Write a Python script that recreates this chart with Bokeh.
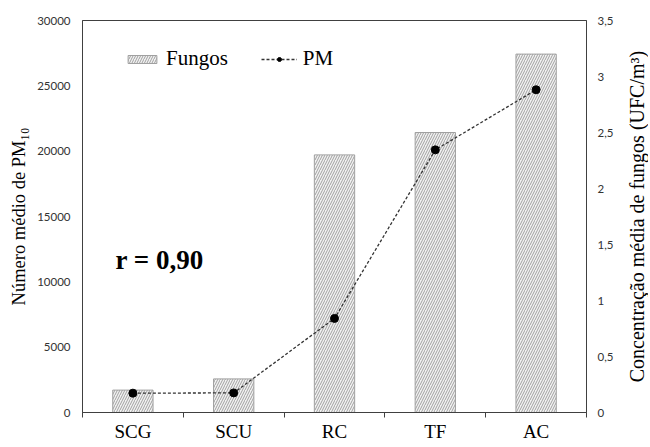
import math
from bokeh.plotting import figure
from bokeh.layouts import row
from bokeh.models import (Range1d, LinearAxis, FixedTicker, Legend, LegendItem,
                          Label, ColumnDataSource)
from bokeh.embed import file_html
from bokeh.resources import INLINE

categories = ["SCG", "SCU", "RC", "TF", "AC"]
fungos = [0.2, 0.3, 2.3, 2.5, 3.2]          # right axis (UFC/m³)
pm = [1480, 1500, 7200, 20100, 24700]        # left axis (PM10)
left_ticks = [0, 5000, 10000, 15000, 20000, 25000, 30000]
right_ticks = [0, 0.5, 1, 1.5, 2, 2.5, 3, 3.5]
right_tick_labels = ["0", "0,5", "1", "1,5", "2", "2,5", "3", "3,5"]
left_title = "Número médio de PM₁₀"
right_title = "Concentração média de fungos (UFC/m³)"

xpos = [i + 0.5 for i in range(len(categories))]
src = ColumnDataSource(dict(x=xpos, cat=categories, fungos=fungos, pm=pm))

SERIF = "Liberation Serif"
SANS = "Lato"

W2 = 28                     # narrow strip holding the right-hand title
W, H = 648 - W2, 445
BL, BT, BB = 82, 20, 33
FW = 504
BR = W - BL - FW
FH = H - BT - BB

p = figure(width=W, height=H, output_backend="svg", toolbar_location=None,
           x_range=Range1d(0, len(categories)), y_range=Range1d(0, 30000),
           min_border_left=BL, min_border_right=BR, min_border_top=BT,
           min_border_bottom=BB)
p.grid.visible = False
p.outline_line_color = "#404040"
p.outline_line_width = 1
p.background_fill_color = "white"
p.border_fill_color = "white"

p.extra_y_ranges = {"right": Range1d(0, 3.5)}

bars = p.vbar(x="x", top="fungos", width=0.4, source=src, y_range_name="right",
              fill_color="#f2f2f2", line_color="#a0a0a0", line_width=1,
              hatch_pattern="/", hatch_color="#a0a0a0", hatch_scale=5,
              hatch_weight=1)
ln = p.line(x="x", y="pm", source=src, line_color="#333333", line_width=1.3,
            line_dash="3 2")
pts = p.scatter(x="x", y="pm", source=src, size=8, fill_color="black",
                line_color="black")

# x axis
xa = p.xaxis[0]
xa.ticker = FixedTicker(ticks=xpos, minor_ticks=list(range(len(categories) + 1)))
xa.major_label_overrides = {x: c for x, c in zip(xpos, categories)}
xa.major_tick_out = 0
xa.major_tick_in = 0
xa.minor_tick_out = 5
xa.minor_tick_in = 0
xa.minor_tick_line_color = "#404040"
xa.axis_line_color = "#404040"
xa.major_label_text_font = SERIF
xa.major_label_text_font_size = "19px"
xa.major_label_text_color = "black"
xa.major_label_standoff = 3

# left axis
ya = p.yaxis[0]
ya.ticker = FixedTicker(ticks=left_ticks)
ya.major_tick_out = 0
ya.major_tick_in = 0
ya.minor_tick_out = 0
ya.minor_tick_in = 0
ya.axis_line_color = "#404040"
ya.major_label_text_font = SANS
ya.major_label_text_font_size = "11.5px"
ya.major_label_text_color = "#333333"
ya.major_label_standoff = 12
ya.axis_label = left_title
ya.axis_label_text_font = SERIF
ya.axis_label_text_font_size = "18.5px"
ya.axis_label_text_font_style = "normal"
ya.axis_label_text_color = "black"
ya.axis_label_standoff = 5

# right axis (ticks only; its title sits in the strip beside it)
ra = LinearAxis(y_range_name="right", ticker=FixedTicker(ticks=right_ticks))
ra.major_label_overrides = {t: s for t, s in zip(right_ticks, right_tick_labels)}
ra.major_tick_out = 0
ra.major_tick_in = 0
ra.minor_tick_out = 0
ra.minor_tick_in = 0
ra.axis_line_color = "#404040"
ra.major_label_text_font = SANS
ra.major_label_text_font_size = "11.5px"
ra.major_label_text_color = "#333333"
ra.major_label_standoff = 11
p.add_layout(ra, "right")

legend = Legend(items=[LegendItem(label="Fungos", renderers=[bars]),
                       LegendItem(label="PM", renderers=[ln, pts])],
                orientation="horizontal", location=(42, 341),
                glyph_width=36, glyph_height=10, label_standoff=6, spacing=33,
                padding=0, margin=0, background_fill_alpha=0,
                border_line_alpha=0, label_text_font=SERIF,
                label_text_font_size="21px", label_text_color="black")
p.add_layout(legend, "center")

p.add_layout(Label(x=33, y=153, x_units="screen", y_units="screen",
                   text="r = 0,90", text_font=SERIF, text_font_size="27px",
                   text_font_style="bold", text_color="black",
                   text_baseline="alphabetic"))

# strip with the right-hand axis title, reading bottom to top
p2 = figure(width=W2, height=H, output_backend="svg", toolbar_location=None,
            min_border=0, x_axis_type=None, y_axis_type=None,
            x_range=Range1d(0, 1), y_range=Range1d(0, 1))
p2.grid.visible = False
p2.outline_line_color = None
p2.background_fill_color = "white"
p2.border_fill_color = "white"
p2.add_layout(Label(x=16, y=196, x_units="screen", y_units="screen",
                    text=right_title, angle=math.pi / 2,
                    text_font=SERIF, text_font_size="20px", text_color="black",
                    text_align="center", text_baseline="middle"))

layout = row(p, p2, spacing=0)
open("out.html", "w").write(file_html(layout, INLINE))
